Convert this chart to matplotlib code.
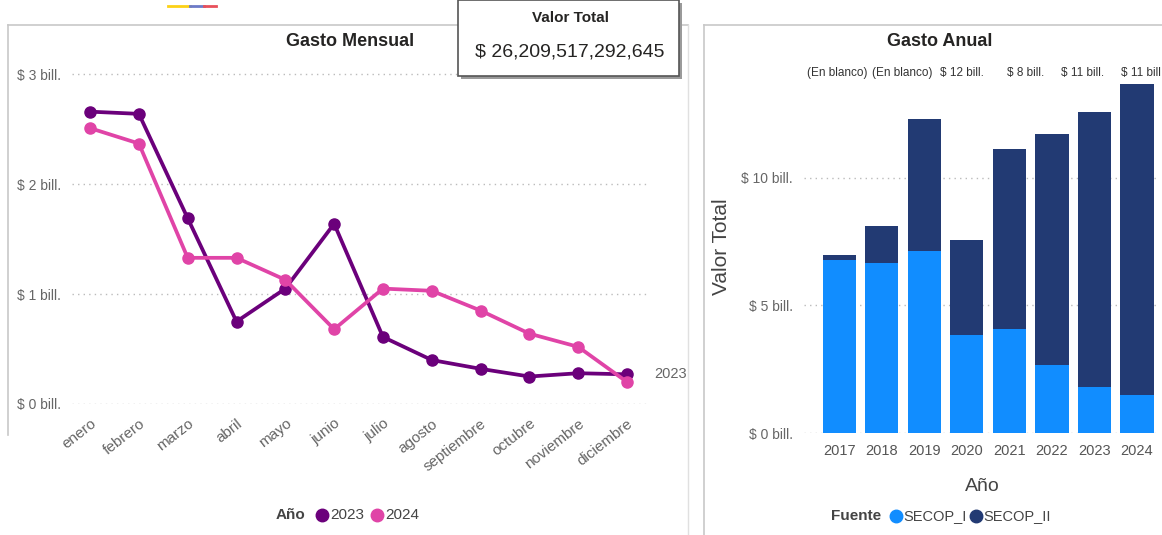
import matplotlib.pyplot as plt
from matplotlib.patches import Rectangle
from matplotlib.lines import Line2D

plt.rcParams['font.family'] = ['Liberation Sans', 'DejaVu Sans']

# monthly spending, trillions of pesos
meses = ['enero', 'febrero', 'marzo', 'abril', 'mayo', 'junio', 'julio',
         'agosto', 'septiembre', 'octubre', 'noviembre', 'diciembre']
gasto_2023 = [2.66, 2.64, 1.69, 0.75, 1.05, 1.64, 0.61, 0.40, 0.32, 0.25, 0.28, 0.27]
gasto_2024 = [2.51, 2.37, 1.33, 1.33, 1.13, 0.68, 1.05, 1.03, 0.85, 0.64, 0.52, 0.20]

# yearly spending by source, trillions of pesos
anios = ['2017', '2018', '2019', '2020', '2021', '2022', '2023', '2024']
secop_i = [6.78, 6.65, 7.14, 3.85, 4.08, 2.65, 1.79, 1.50]
secop_ii = [0.17, 1.47, 5.17, 3.71, 7.03, 9.06, 10.79, 12.15]
etiquetas_total = ['(En blanco)', '(En blanco)', '$ 12 bill.', '$ 8 bill.', '$ 11 bill.', '$ 11 bill.']

valor_total = '$ 26,209,517,292,645'

c23 = '#6B007B'
c24 = '#E044A7'
c_i = '#118DFF'
c_ii = '#223A73'
gris = '#666666'

W, H = 1162, 535
fig = plt.figure(figsize=(W / 100, H / 100), dpi=100)


def fx(px):
    return px / W


def fy(py):
    return 1 - py / H


# panel borders
fig.add_artist(Line2D([fx(8), fx(8)], [fy(25), fy(435)], color='#c8c8c8', lw=1.2))
fig.add_artist(Line2D([fx(8), fx(688)], [fy(25), fy(25)], color='#c8c8c8', lw=1.2))
fig.add_artist(Line2D([fx(688), fx(688)], [fy(25), fy(535)], color='#e0e0e0', lw=1))
fig.add_artist(Line2D([fx(704), fx(704)], [fy(25), fy(535)], color='#c8c8c8', lw=1.2))
fig.add_artist(Line2D([fx(704), fx(1162)], [fy(25), fy(25)], color='#c8c8c8', lw=1.2))

# little flag strip
for x0, x1, col in [(168, 190, '#FCD116'), (190, 204, '#6C7AC8'), (204, 216, '#E8505B')]:
    fig.add_artist(Line2D([fx(x0), fx(x1)], [fy(6), fy(6)], color=col, lw=2))

# ---------- Gasto Mensual ----------
ax1 = fig.add_axes([fx(72), fy(404), fx(650 - 72), fy(60) - fy(404)])
x = range(len(meses))
ax1.plot(x, gasto_2023, color=c23, lw=2.7, marker='o', ms=8, clip_on=False, zorder=3)
ax1.plot(x, gasto_2024, color=c24, lw=2.7, marker='o', ms=8, clip_on=False, zorder=3)
ax1.set_xlim(-0.37, 11.47)
ax1.set_ylim(0, 3.13)
ax1.set_yticks([0, 1, 2, 3])
ax1.set_yticklabels(['$ 0 bill.', '$ 1 bill.', '$ 2 bill.', '$ 3 bill.'], color=gris, fontsize=10)
ax1.set_xticks(list(x))
ax1.set_xticklabels(meses, rotation=38, ha='right', rotation_mode='anchor', color=gris, fontsize=11)
ax1.tick_params(length=0, pad=8)
ax1.tick_params(axis='x', pad=9)
ax1.grid(axis='y', linestyle=(0, (1, 3)), color='#bbbbbb', lw=1)
for s in ax1.spines.values():
    s.set_visible(False)
ax1.text(11.55, gasto_2023[-1] + 0.0, '2023', color=gris, fontsize=10.5, va='center', clip_on=False)

fig.text(fx(350), fy(42), 'Gasto Mensual', ha='center', va='center', fontsize=13,
         fontweight='bold', color='#252423')

# legend
fig.text(fx(291), fy(515), 'Año', ha='center', va='center', fontsize=11, fontweight='bold', color='#444444')
fig.add_artist(Line2D([fx(322)], [fy(515)], marker='o', ms=9, color=c23, lw=0))
fig.text(fx(330), fy(515), '2023', ha='left', va='center', fontsize=11, color='#444444')
fig.add_artist(Line2D([fx(377)], [fy(515)], marker='o', ms=9, color=c24, lw=0))
fig.text(fx(385), fy(515), '2024', ha='left', va='center', fontsize=11, color='#444444')

# ---------- Valor Total card ----------
fig.add_artist(Rectangle((fx(461), fy(79)), fx(221), fy(0) - fy(76), facecolor='#9a9a9a',
                         edgecolor='none', zorder=4))
fig.add_artist(Rectangle((fx(458), fy(76)), fx(221), fy(0) - fy(76), facecolor='white',
                         edgecolor='#555555', lw=1.2, zorder=5))
fig.text(fx(570), fy(18), 'Valor Total', ha='center', va='center', fontsize=11,
         fontweight='bold', color='#252423', zorder=6)
fig.text(fx(570), fy(52), valor_total, ha='center', va='center', fontsize=14,
         color='#252423', zorder=6)

# ---------- Gasto Anual ----------
ax2 = fig.add_axes([fx(804), fy(433), fx(1160 - 804), fy(60) - fy(433)])
xb = range(len(anios))
ax2.bar(xb, secop_i, width=0.78, color=c_i, zorder=3)
ax2.bar(xb, secop_ii, width=0.78, bottom=secop_i, color=c_ii, zorder=3)
ax2.set_xlim(-0.83, 7.54)
ax2.set_ylim(0, 14.6)
ax2.set_yticks([0, 5, 10])
ax2.set_yticklabels(['$ 0 bill.', '$ 5 bill.', '$ 10 bill.'], color=gris, fontsize=10)
ax2.set_xticks(list(xb))
ax2.set_xticklabels(anios, color='#555555', fontsize=10.5)
ax2.tick_params(length=0, pad=8)
ax2.grid(axis='y', linestyle=(0, (1, 3)), color='#bbbbbb', lw=1)
for s in ax2.spines.values():
    s.set_visible(False)
ax2.set_xlabel('Año', fontsize=14, color='#444444', labelpad=14)
ax2.set_ylabel('Valor Total', fontsize=15, color='#444444')
ax2.yaxis.set_label_coords(-0.205, 0.5)

fig.text(fx(940), fy(42), 'Gasto Anual', ha='center', va='center', fontsize=13,
         fontweight='bold', color='#252423')

# total labels (misaligned as in the report)
for px, lab in zip([807, 872, 940, 1007, 1061, 1121], etiquetas_total):
    fig.text(fx(px), fy(73), lab, ha='left', va='center', fontsize=8.5, color='#333333')

# legend
fig.text(fx(856), fy(516), 'Fuente', ha='center', va='center', fontsize=11, fontweight='bold', color='#444444')
fig.add_artist(Line2D([fx(896)], [fy(516)], marker='o', ms=9, color=c_i, lw=0))
fig.text(fx(903), fy(516), 'SECOP_I', ha='left', va='center', fontsize=10.5, color='#444444')
fig.add_artist(Line2D([fx(976)], [fy(516)], marker='o', ms=9, color=c_ii, lw=0))
fig.text(fx(983), fy(516), 'SECOP_II', ha='left', va='center', fontsize=10.5, color='#444444')

fig.savefig('out.png', dpi=100)
